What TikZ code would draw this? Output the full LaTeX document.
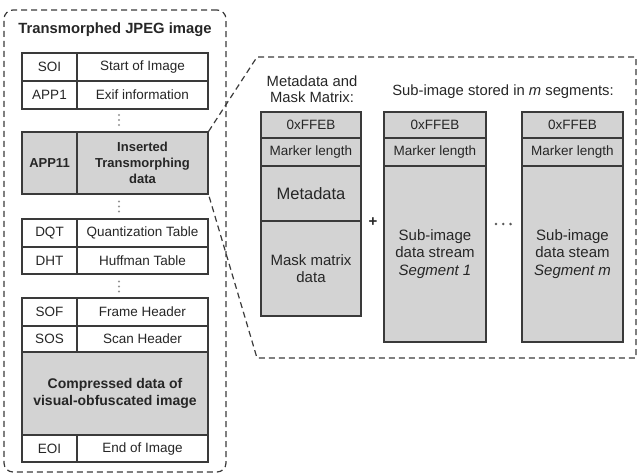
\documentclass[tikz,border=0pt]{standalone}
\usepackage{fontspec}
\setmainfont{Liberation Sans}
\definecolor{linec}{HTML}{3A3A3A}
\definecolor{txt}{HTML}{262626}
\definecolor{cellgray}{HTML}{D3D3D3}
\begin{document}
\begin{tikzpicture}[x=1pt,y=-1pt,
  box/.style 2 args={minimum width=#1pt, minimum height=#2pt},
  cell/.style={draw=linec, line width=1.1pt, fill=white, text=txt, inner sep=0pt, align=center,
    font=\fontsize{13.5}{16}\selectfont},
  gcell/.style={cell, fill=cellgray},
  bcell/.style={font=\fontsize{13}{16}\selectfont\bfseries},
  bigbcell/.style={font=\fontsize{14}{16.5}\selectfont\bfseries},
  scell/.style={font=\fontsize{15}{17.5}\selectfont},
  dashbox/.style={draw=linec, line width=1.2pt, dash pattern=on 6pt off 4pt},
  vdotc/.style={fill=linec!55},
  hdotc/.style={fill=linec!85},
  lbl/.style={text=txt, inner sep=0pt, align=center, font=\fontsize{14.8}{16}\selectfont}
]
\useasboundingbox (0,0) rectangle (637,475);

% left outer dashed box
\node[dashbox, rounded corners=9pt, box={222}{462}] (outer) at (115,241) {};
\node[text=txt, inner sep=0pt, font=\fontsize{14.8}{16}\selectfont\bfseries] (title) at (115,30) {Transmorphed JPEG image};

% left table
\node[cell, box={55}{28}] (soi) at (49.5,67) {SOI};
\node[cell, box={131}{28}] (soiD) at (142.5,67) {Start of Image};
\node[cell, box={55}{28}] (app1) at (49.5,95) {APP1};
\node[cell, box={131}{28}] (app1D) at (142.5,95) {Exif information};
\foreach \y in {115,120,125} \fill[vdotc] (119,\y) circle (1.2pt);
\node[gcell, bcell, box={55}{62}] (app11) at (49.5,163) {APP11};
\node[gcell, bcell, box={131}{62}] (app11D) at (142.5,163) {Inserted\\Transmorphing\\data};
\foreach \y in {201.5,206.5,211.5} \fill[vdotc] (119,\y) circle (1.2pt);
\node[cell, box={55}{28}] (dqt) at (49.5,233) {DQT};
\node[cell, box={131}{28}] (dqtD) at (142.5,233) {Quantization Table};
\node[cell, box={55}{27}] (dht) at (49.5,260.5) {DHT};
\node[cell, box={131}{27}] (dhtD) at (142.5,260.5) {Huffman Table};
\foreach \y in {281.5,286.5,291.5} \fill[vdotc] (119,\y) circle (1.2pt);
\node[cell, box={55}{28}] (sof) at (49.5,312) {SOF};
\node[cell, box={131}{28}] (sofD) at (142.5,312) {Frame Header};
\node[cell, box={55}{26}] (sos) at (49.5,339) {SOS};
\node[cell, box={131}{26}] (sosD) at (142.5,339) {Scan Header};
\node[gcell, bigbcell, box={186}{83}] (comp) at (115,393.5) {Compressed data of\\visual-obfuscated image};
\node[cell, box={55}{27}] (eoi) at (49.5,448.5) {EOI};
\node[cell, box={131}{27}] (eoiD) at (142.5,448.5) {End of Image};

% right dashed zoom box
\coordinate (rtl) at (257,57);
\coordinate (rtr) at (636,57);
\coordinate (rbr) at (636,358);
\coordinate (rbl) at (257,358);
\draw[dashbox] (app11D.north east) -- (rtl) -- (rtr) -- (rbr) -- (rbl) -- (app11D.south east);

% headers
\node[lbl] (hmeta) at (312,89.5) {Metadata and\\Mask Matrix:};
\node[lbl] (hsub) at (503,92) {Sub-image stored in \textit{m} segments:};

% column 1
\node[gcell, box={100}{26}] (c1a) at (311,125) {0xFFEB};
\node[gcell, box={100}{28}] (c1b) at (311,152) {Marker length};
\node[gcell, box={100}{55}, font=\fontsize{16.5}{18}\selectfont] (c1c) at (311,193.5) {Metadata};
\node[gcell, scell, box={100}{95}] (c1d) at (311,268.5) {Mask matrix\\data};

% column 2
\node[gcell, box={102}{26}] (c2a) at (435,125) {0xFFEB};
\node[gcell, box={102}{28}] (c2b) at (435,152) {Marker length};
\node[gcell, scell, box={102}{176}] (c2c) at (435,254) {Sub-image\\data stream\\\textit{Segment 1}};

% column 3
\node[gcell, box={101}{26}] (c3a) at (572.5,125) {0xFFEB};
\node[gcell, box={101}{28}] (c3b) at (572.5,152) {Marker length};
\node[gcell, scell, box={101}{176}] (c3c) at (572.5,254) {Sub-image\\data steam\\\textit{Segment m}};

\node[text=txt, inner sep=0pt, font=\fontsize{15}{16}\selectfont\bfseries] (plus) at (373,222) {+};
\foreach \x in {496,503.3,510.6} \fill[hdotc] (\x,224) circle (1.4pt);
\end{tikzpicture}
\end{document}
